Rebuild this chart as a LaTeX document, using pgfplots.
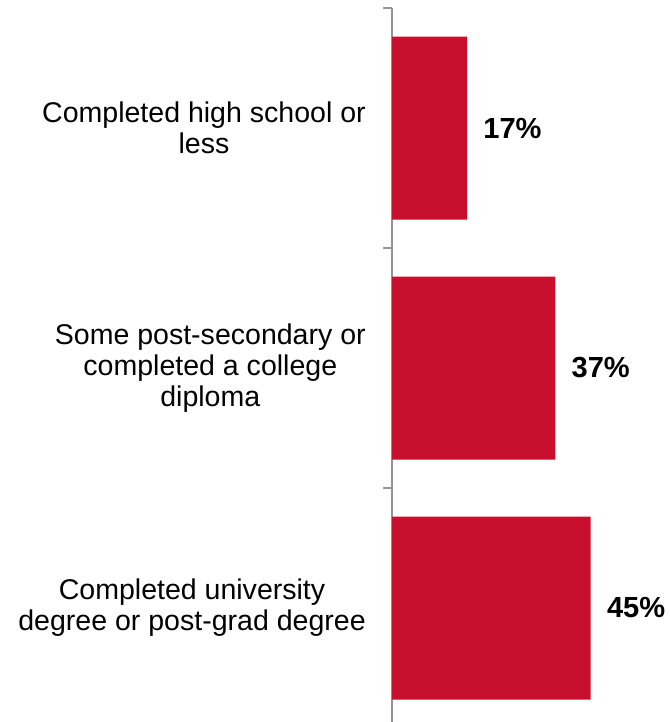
\documentclass[border=0pt]{standalone}
\usepackage{pgfplots}
\pgfplotsset{compat=1.18}
\usepackage{fontspec}
\setmainfont{Liberation Sans}
\definecolor{barred}{RGB}{200,16,46}
\definecolor{axgray}{RGB}{150,150,150}
\begin{document}
\begin{tikzpicture}
\useasboundingbox (0,0) rectangle (502.5pt,541.5pt);
\begin{axis}[
  at={(294pt,-4.5pt)}, anchor=south west,
  scale only axis,
  width=198.75pt, height=540pt,
  xmin=0, xmax=60,
  ymin=-0.5, ymax=2.5,
  y dir=reverse,
  axis x line=none,
  axis y line*=left,
  y axis line style={draw=axgray, line width=1.5pt, -},
  ytick={0,1,2},
  yticklabels={{Completed high school or\\less},{Some post-secondary or\\completed a college\\diploma},{Completed university\\degree or post-grad degree}},
  major tick length=0pt,
  extra y ticks={-0.5,0.5,1.5,2.5},
  extra y tick labels={},
  extra y tick style={major tick length=6.5pt, tick style={draw=axgray, line width=1.5pt}, tick align=outside},
  yticklabel style={align=center, font=\fontsize{21.4}{23.25}\selectfont, inner sep=0pt, xshift=-19.5pt},
  xbar, bar width=137.25pt, bar shift=0pt,
  nodes near coords={\textbf{\pgfmathprintnumber[assume math mode=true]{\pgfplotspointmeta}\%}},
  point meta=x,
  nodes near coords style={font=\fontsize{21.8}{23.25}\selectfont, anchor=west, inner sep=0pt, xshift=12pt, text=black},
  clip=false,
]
\addplot[fill=barred, draw=none] coordinates {(17,0) (37,1) (45,2)};
\end{axis}
\end{tikzpicture}
\end{document}
